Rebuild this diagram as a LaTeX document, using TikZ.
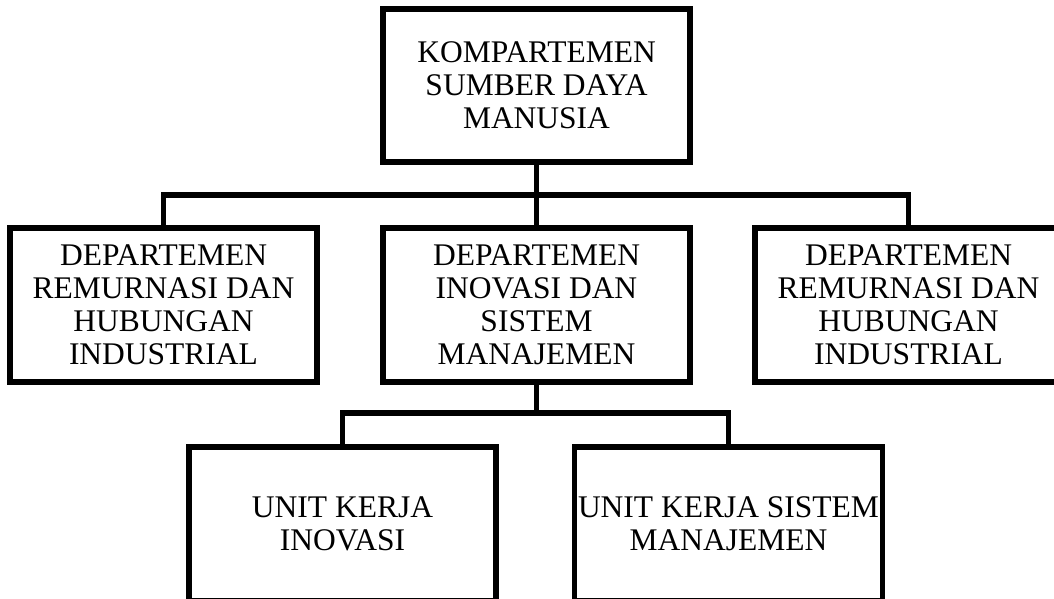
\documentclass[tikz,border=0pt]{standalone}
\usepackage{fontspec}
\setmainfont{Liberation Serif}

\begin{document}
\begin{tikzpicture}[x=1pt,y=-1pt,line width=5.5pt,
	box/.style={draw,rectangle,minimum width=307pt,minimum height=154pt,align=center,font=\fontsize{31.5}{33}\selectfont}]
	\clip (0,0) rectangle (1054,598);

	\node[box,minimum height=153pt] (kom) at (536.5,85.5) {KOMPARTEMEN\\SUMBER DAYA\\MANUSIA};

	\node[box] (depkiri) at (163.5,305) {DEPARTEMEN\\REMURNASI DAN\\HUBUNGAN\\INDUSTRIAL};
	\node[box] (deptengah) at (536.5,305) {DEPARTEMEN\\INOVASI DAN\\SISTEM\\MANAJEMEN};
	\node[box] (depkanan) at (908.5,305) {DEPARTEMEN\\REMURNASI DAN\\HUBUNGAN\\INDUSTRIAL};

	\node[box] (unitino) at (342.5,524) {UNIT KERJA\\INOVASI};
	\node[box] (unitsis) at (728.5,524) {UNIT KERJA SISTEM\\MANAJEMEN};

	\coordinate (cabang1) at (536.5,195);
	\coordinate (cabang2) at (536.5,413);

	\draw (kom.south) -- (cabang1) -- (deptengah.north);
	\draw (depkiri.north) |- (cabang1) -| (depkanan.north);

	\draw (deptengah.south) -- (cabang2);
	\draw (unitino.north) |- (cabang2) -| (unitsis.north);
\end{tikzpicture}
\end{document}
